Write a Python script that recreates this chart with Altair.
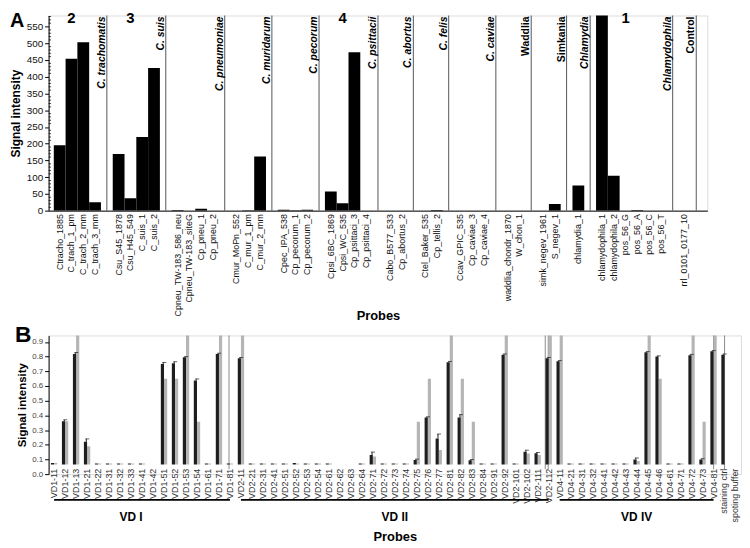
import altair as alt
import pandas as pd

# ---------------- Panel A data ----------------
groups_a = ["C. trachomatis", "C. suis", "C. pneumoniae", "C. muridarum", "C. pecorum",
            "C. psittacii", "C. abortus", "C. felis", "C. caviae", "Waddlia", "Simkania",
            "Chlamydia", "Chlamydophila", "Control"]
italic_a = [1, 1, 1, 1, 1, 1, 1, 1, 1, 0, 0, 1, 1, 0]
probes_a = [
    ["Ctracho_1885", "C_trach_1_pm", "C_trach_2_mm", "C_trach_3_mm"],
    ["Csu_S45_1878", "Csu_H45_549", "C_suis_1", "C_suis_2"],
    ["Cpneu_TW-183_586_neu", "Cpneu_TW-183_siteG", "Cp_pneu_1", "Cp_pneu_2"],
    ["Cmur_MoPn_552", "C_mur_1_pm", "C_mur_2_mm"],
    ["Cpec_IPA_538", "Cp_pecorum_1", "Cp_pecorum_2"],
    ["Cpsi_6BC_1869", "Cpsi_WC_535", "Cp_psittaci_3", "Cp_psittaci_4"],
    ["Cabo_B577_533", "Cp_abortus_2"],
    ["Ctel_Baker_535", "Cp_tellis_2"],
    ["Ccav_GPIC_535", "Cp_caviae_3", "Cp_caviae_4"],
    ["waddlia_chondr_1870", "W_chon_1"],
    ["simk_negev_1961", "S_negev_1"],
    ["chlamydia_1"],
    ["chlamydophila_1", "chlamydophila_2", "pos_56_G", "pos_56_A", "pos_56_C", "pos_56_T"],
    ["rrl_0101_0177_10"],
]
values_a = [
    [195, 454, 503, 25],
    [169, 37, 220, 426],
    [2, 0, 6, 0],
    [0, 1, 162],
    [3, 1, 3],
    [57, 22, 473, 0],
    [0, 0],
    [0, 2],
    [0, 0, 0],
    [0, 0],
    [0, 20],
    [75],
    [600, 104, 0, 2, 0, 0],
    [0],
]
number_probes = ["C_trach_1_pm", "Csu_H45_549", "Cpsi_WC_535", "pos_56_G"]
number_texts = ["2", "3", "4", "1"]
yticks_a = [0, 50, 100, 150, 200, 250, 300, 350, 400, 450, 500, 550]
minor_a = [v for v in range(10, 590, 10) if v % 50 != 0]
ymax_a = 583

# ---------------- Panel B data ----------------
probes_b = ["VD1-11", "VD1-12", "VD1-13", "VD1-21", "VD1-22", "VD1-31", "VD1-32", "VD1-33",
            "VD1-41", "VD1-42", "VD1-51", "VD1-52", "VD1-53", "VD1-54", "VD1-61", "VD1-71",
            "VD1-81",
            "VD2-11", "VD2-21", "VD2-31", "VD2-41", "VD2-51", "VD2-52", "VD2-53", "VD2-54",
            "VD2-61", "VD2-62", "VD2-63", "VD2-64", "VD2-71", "VD2-72", "VD2-73", "VD2-74",
            "VD2-75", "VD2-76", "VD2-77", "VD2-81", "VD2-82", "VD2-83", "VD2-84", "VD2-91",
            "VD2-92", "VD2-101", "VD2-102", "VD2-111", "VD2-112",
            "VD4-11", "VD4-21", "VD4-31", "VD4-32", "VD4-41", "VD4-42", "VD4-43", "VD4-44",
            "VD4-45", "VD4-46", "VD4-61", "VD4-71", "VD4-72", "VD4-73", "VD4-81",
            "staining ctrl", "spoting buffer"]
black_b = [0.075, 0.36, 0.818, 0.22, 0.072, 0.072, 0.072, 0.072,
           0.072, 0.066, 0.75, 0.755, 0.795, 0.638, 0.072, 0.818,
           0.072,
           0.789, 0.072, 0.072, 0.072, 0.072, 0.075, 0.072, 0.072,
           0.072, 0.066, 0.066, 0.072, 0.13, 0.072, 0.072, 0.072,
           0.097, 0.385, 0.243, 0.762, 0.385, 0.094, 0.072, 0.072,
           0.813, 0.072, 0.153, 0.142, 0.789,
           0.768, 0.072, 0.072, 0.072, 0.072, 0.072, 0.072, 0.10,
           0.829, 0.80, 0.072, 0.072, 0.81, 0.10, 0.836,
           0.813, 0.066]
gray_b = [0.075, 0.36, 1.0, 0.19, 0.072, 0.072, 0.072, 0.072,
          0.072, 0.066, 0.65, 0.65, 1.0, 0.356, 0.072, 1.0,
          0.072,
          1.0, 0.072, 0.072, 0.072, 0.072, 0.072, 0.072, 0.072,
          0.072, 0.066, 0.066, 0.072, 0.12, 0.072, 0.072, 0.072,
          0.356, 0.65, 0.165, 1.0, 0.65, 0.356, 0.072, 0.072,
          1.0, 0.072, 0.14, 0.13, 1.0,
          1.0, 0.072, 0.072, 0.072, 0.072, 0.072, 0.072, 0.09,
          1.0, 0.65, 0.072, 0.072, 1.0, 0.356, 1.0,
          0.066, 0.066]
err_b = [0.0, 0.01, 0.01, 0.02, 0.0, 0.0, 0.0, 0.0,
         0.0, 0.0, 0.01, 0.01, 0.005, 0.01, 0.0, 0.005,
         0.0,
         0.005, 0.0, 0.0, 0.0, 0.0, 0.0, 0.0, 0.0,
         0.0, 0.0, 0.0, 0.0, 0.02, 0.0, 0.0, 0.0,
         0.005, 0.005, 0.03, 0.005, 0.02, 0.005, 0.0, 0.0,
         0.005, 0.0, 0.01, 0.005, 0.005,
         0.005, 0.0, 0.0, 0.0, 0.0, 0.0, 0.0, 0.01,
         0.005, 0.005, 0.0, 0.0, 0.005, 0.005, 0.005,
         0.005, 0.0]
baseline_b = 0.065
ymax_b = 0.944
yticks_b = [0.0, 0.1, 0.2, 0.3, 0.4, 0.5, 0.6, 0.7, 0.8, 0.9]
vd_names = ["VD I", "VD II", "VD IV"]
vd_start = ["VD1-11", "VD2-11", "VD4-11"]
vd_end = ["VD1-81", "VD2-112", "VD4-81"]
vd_mid = ["VD1-33", "VD2-73", "VD4-44"]
divider_probes = ["VD2-11", "VD4-11", "VD4-11", "staining ctrl", "spoting buffer"]
divider_shift = [-6.5, -9, -6, -5.5, -5.5]

FONT = "Liberation Sans"

# ---------------- Build panel A ----------------
rows_a = []
for gi, (g, plist, vlist) in enumerate(zip(groups_a, probes_a, values_a)):
    for p, v in zip(plist, vlist):
        num = number_texts[number_probes.index(p)] if p in number_probes else ""
        rows_a.append({"slot": p, "value": v, "kind": "probe", "label": "", "italic": 0, "num": num})
    rows_a.append({"slot": "|" + str(gi), "value": 0, "kind": "sep", "label": g,
                   "italic": italic_a[gi], "num": ""})
df_a = pd.DataFrame(rows_a)
order_a = list(df_a["slot"])

WA, HA = 665, 197
xa = alt.X("slot:N", scale=alt.Scale(domain=order_a, paddingInner=0, paddingOuter=0.44),
           axis=alt.Axis(labelAngle=270, ticks=False, tickSize=0, labelPadding=3,
                         labelFontSize=9, labelColor="#111", domainColor="black",
                         labelExpr="indexof(datum.label, '|') >= 0 ? '' : datum.label",
                         title="Probes", titleFontSize=13, titleFontWeight="bold",
                         titleY=110, titleBaseline="alphabetic"))
yscale_a = alt.Scale(domain=[0, ymax_a])
ya_axis = alt.Axis(values=yticks_a, tickSize=4, labelPadding=2, labelFontSize=10,
                   labelColor="#111", domainColor="black", tickColor="black", labelOverlap=False,
                   grid=False, title="Signal intensity", titleFontSize=12,
                   titleFontWeight="bold", titlePadding=4)
ya = alt.Y("value:Q", scale=yscale_a, axis=ya_axis)

base_a = alt.Chart(df_a)
bars_a = base_a.transform_filter("datum.kind == 'probe'").mark_bar(color="black", clip=True).encode(x=xa, y=ya)
seps_a = base_a.transform_filter("datum.kind == 'sep'").mark_rule(color="#555", strokeWidth=1).encode(x=xa)
lab_it = base_a.transform_filter("datum.kind == 'sep' && datum.italic == 1").mark_text(
    angle=270, align="right", baseline="bottom", fontSize=10.5, fontWeight="bold",
    fontStyle="italic", color="black").encode(x=xa, y=alt.value(1), text="label:N")
lab_rm = base_a.transform_filter("datum.kind == 'sep' && datum.italic == 0").mark_text(
    angle=270, align="right", baseline="bottom", fontSize=10.5, fontWeight="bold",
    color="black").encode(x=xa, y=alt.value(1), text="label:N")
nums_a = base_a.transform_filter("datum.num != ''").mark_text(
    fontSize=15, fontWeight="bold", color="black", baseline="alphabetic").encode(
    x=xa, y=alt.value(8), text="num:N")
minor_df = pd.DataFrame({"m": minor_a})
minor_ticks = alt.Chart(minor_df).mark_rule(color="black", strokeWidth=0.7).encode(
    y=alt.Y("m:Q", scale=yscale_a, axis=ya_axis), x=alt.value(0), x2=alt.value(2.5))
letter_a = alt.Chart(pd.DataFrame({"t": ["A"]})).mark_text(
    fontSize=20, fontWeight="bold", align="left", baseline="alphabetic", color="black").encode(
    text="t:N", x=alt.value(-39), y=alt.value(12))

panel_a = alt.layer(bars_a, seps_a, lab_it, lab_rm, nums_a, minor_ticks, letter_a).properties(
    width=WA, height=HA)

# ---------------- Build panel B ----------------
df_b = pd.DataFrame({"probe": probes_b, "black": black_b, "gray": gray_b, "err": err_b})
df_vd = pd.DataFrame({"name": vd_names, "start": vd_start, "end": vd_end, "mid": vd_mid})
df_div = pd.DataFrame({"probe": divider_probes, "shift": divider_shift})

WB, HB = 699, 140
xscale_b = alt.Scale(domain=probes_b, paddingInner=0, paddingOuter=0)
xb_axis = alt.Axis(labelAngle=270, ticks=False, tickSize=0, domain=False, labelPadding=2,
                   offset=-8, labelFontSize=9, labelColor="#333",
                   title="Probes", titleFontSize=13, titleFontWeight="bold",
                   titleY=75, titleBaseline="alphabetic")
xb = alt.X("probe:N", scale=xscale_b, axis=xb_axis)
yscale_b = alt.Scale(domain=[0, ymax_b])
yb_axis = alt.Axis(values=yticks_b, format=".1f", tickSize=4, labelPadding=2, labelFontSize=8,
                   labelColor="#444", domainColor="black", tickColor="black", grid=False,
                   labelOverlap=False,
                   title="Signal intensity", titleFontSize=11.5, titleFontWeight="bold",
                   titlePadding=4)

base_b = alt.Chart(df_b)
black_bars = base_b.mark_bar(color="#1e1e1e", width=3.2, xOffset=-1.6, clip=True).encode(
    x=xb, y=alt.Y("black:Q", scale=yscale_b, axis=yb_axis), y2=alt.datum(baseline_b))
gray_bars = base_b.mark_bar(color="#b5b5b5", width=3.2, xOffset=1.6, clip=True).encode(
    x=xb, y=alt.Y("gray:Q", scale=yscale_b, axis=yb_axis), y2=alt.datum(baseline_b))
err_rule = base_b.transform_filter("datum.err > 0").transform_calculate(
    hi="datum.black + datum.err").mark_rule(color="#1e1e1e", xOffset=-0.8, strokeWidth=1).encode(
    x=xb, y=alt.Y("black:Q", scale=yscale_b, axis=yb_axis), y2="hi:Q")
err_cap = base_b.transform_filter("datum.err > 0").transform_calculate(
    hi="datum.black + datum.err").mark_tick(color="#1e1e1e", orient="horizontal", size=4,
                                            thickness=1, xOffset=0.2).encode(
    x=xb, y=alt.Y("hi:Q", scale=yscale_b, axis=yb_axis))
dividers = alt.Chart(df_div).mark_rule(color="#8a8a8a", strokeWidth=1).encode(
    x=alt.X("probe:N", scale=xscale_b, axis=xb_axis), xOffset=alt.XOffset("shift:Q", scale=None),
    y=alt.value(0), y2=alt.value(HB - 5))
vd_lines = alt.Chart(df_vd).mark_rule(color="black", strokeWidth=2).encode(
    x=alt.X("start:N", scale=xscale_b, axis=xb_axis), x2="end:N", y=alt.value(166))
vd_text = alt.Chart(df_vd).mark_text(fontSize=12, fontWeight="bold", color="black",
                                     baseline="middle").encode(
    x=alt.X("mid:N", scale=xscale_b, axis=xb_axis), y=alt.value(183), text="name:N")
letter_b = alt.Chart(pd.DataFrame({"t": ["B"]})).mark_text(
    fontSize=23, fontWeight="bold", align="left", baseline="alphabetic", color="black").encode(
    text="t:N", x=alt.value(-34), y=alt.value(7))

panel_b = alt.layer(dividers, gray_bars, black_bars, err_rule, err_cap, vd_lines, vd_text,
                    letter_b).properties(width=WB, height=HB)

chart = alt.vconcat(panel_a, panel_b, spacing=0).properties(padding=0).configure_view(
    stroke=None).configure(font=FONT)

chart.save("out.html", embed_options={"renderer": "svg", "actions": False})
